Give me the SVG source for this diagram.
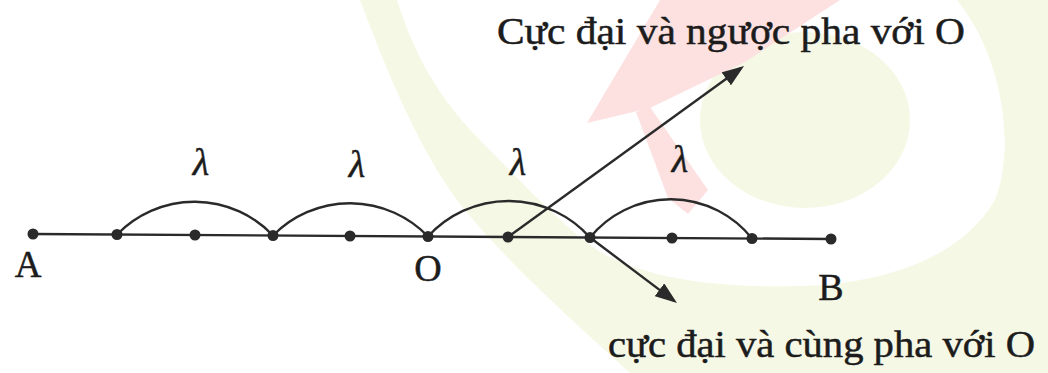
<svg xmlns="http://www.w3.org/2000/svg" width="1048" height="373" viewBox="0 0 1048 373">
<style>
.bg{fill:#ffffff}
.wg{fill:#f6f8e6}
.ww{fill:#ffffff}
.wr{fill:#fde1e1}
.ln{stroke:#2a2a2a;stroke-width:2.4;fill:none}
.dot{fill:#2a2a2a}
text{fill:#1c1c1c;stroke:#1c1c1c;stroke-width:0.5}
</style>
<defs>
<marker id="ah" viewBox="0 0 22 16" refX="18" refY="8" markerWidth="22" markerHeight="16" markerUnits="userSpaceOnUse" orient="auto">
<path d="M0,0 L22,8 L0,16 Z" fill="#2a2a2a"/>
</marker>
</defs>
<rect class="bg" x="0" y="0" width="1048" height="373"/>
<g id="watermark">
<path class="wg" d="M360,0 C390,80 420,150 457,200 C500,255 560,310 630,373 L1048,373 L1048,0 Z"/>
<path class="ww" d="M397,0 C410,40 430,90 480,140 C520,180 560,225 600,252 C650,280 720,288 800,286 C880,284 960,260 995,200 C1015,150 1005,60 957,0 Z"/>
<ellipse class="wg" cx="805" cy="120" rx="105" ry="88"/>
<path class="wr" d="M587,123 L660,0 L840,0 L745,62 L650,108 Z"/>
<path class="wr" d="M636,112 L650,107 L708,190 L688,214 L668,198 Z"/>
</g>
<g id="connectors">
<line class="ln" x1="33" y1="234" x2="831" y2="239"/>
<path id="arc1" class="ln" d="M117,234.5 A108,108 0 0 1 273,235.5"/>
<path id="arc2" class="ln" d="M273,235.5 A108,108 0 0 1 428,236.5"/>
<path id="arc3" class="ln" d="M428,236.5 A109,109 0 0 1 590,237.5"/>
<path id="arc4" class="ln" d="M590,237.5 A104,104 0 0 1 752,238.5"/>
<line id="arrow-up" class="ln" x1="508" y1="237" x2="740.8" y2="68.3" marker-end="url(#ah)"/>
<line id="arrow-down" class="ln" x1="590" y1="237.5" x2="673.8" y2="300.6" marker-end="url(#ah)"/>
</g>
<g font-family="'Liberation Serif', 'Times New Roman', Times, serif">
<g id="node-A"><circle class="dot" cx="33" cy="234" r="5.5"/><text x="28" y="277" font-size="37" text-anchor="middle">A</text></g>
<g id="node-p1"><circle class="dot" cx="117" cy="234.5" r="5.5"/></g>
<g id="node-p2"><circle class="dot" cx="195" cy="235" r="5.5"/></g>
<g id="node-p3"><circle class="dot" cx="273" cy="235.5" r="5.5"/></g>
<g id="node-p4"><circle class="dot" cx="350" cy="236" r="5.5"/></g>
<g id="node-O"><circle class="dot" cx="428" cy="236.5" r="5.5"/><text x="428" y="281" font-size="38" text-anchor="middle">O</text></g>
<g id="node-p5"><circle class="dot" cx="508" cy="237" r="5.5"/></g>
<g id="node-p6"><circle class="dot" cx="590" cy="237.5" r="5.5"/></g>
<g id="node-p7"><circle class="dot" cx="672" cy="238" r="5.5"/></g>
<g id="node-p8"><circle class="dot" cx="752" cy="238.5" r="5.5"/></g>
<g id="node-B"><circle class="dot" cx="831" cy="239" r="5.5"/><text x="831" y="300" font-size="38" text-anchor="middle">B</text></g>
<g id="lambda-labels" font-size="38" font-style="italic">
<text x="201" y="175" text-anchor="middle">λ</text>
<text x="357" y="177" text-anchor="middle">λ</text>
<text x="518" y="175" text-anchor="middle">λ</text>
<text x="680" y="172" text-anchor="middle">λ</text>
</g>
<g id="label-top"><text x="497" y="44" font-size="37" textLength="468" lengthAdjust="spacingAndGlyphs">Cực đại và ngược pha với O</text></g>
<g id="label-bottom"><text x="608" y="357" font-size="37" textLength="427" lengthAdjust="spacingAndGlyphs">cực đại và cùng pha với O</text></g>
</g>
</svg>
